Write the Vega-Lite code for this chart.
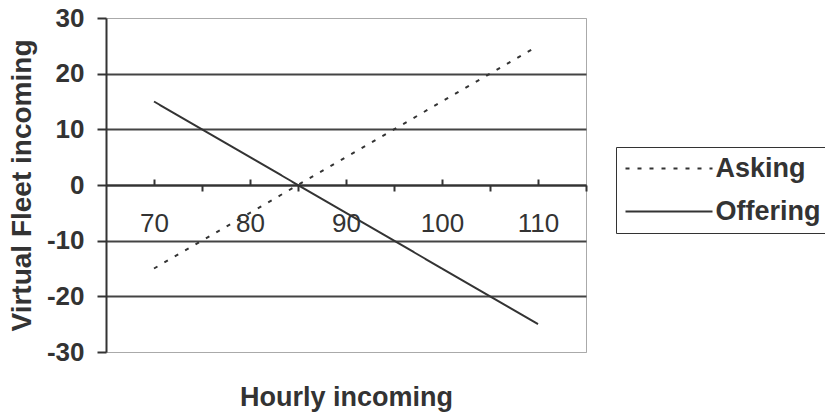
{
  "$schema": "https://vega.github.io/schema/vega-lite/v6.json",
  "autosize": "none",
  "width": 480,
  "height": 334,
  "padding": {"left": 106, "top": 18, "right": 239, "bottom": 60},
  "background": "white",
  "config": {
    "font": "Liberation Sans",
    "view": {"stroke": "#aaaaaa", "strokeWidth": 1},
    "axis": {"labelColor": "#333333", "titleColor": "#333333"}
  },
  "data": {
    "values": [
      {"series": "Asking", "hourly": 70, "vf": -15},
      {"series": "Asking", "hourly": 75, "vf": -10},
      {"series": "Asking", "hourly": 80, "vf": -5},
      {"series": "Asking", "hourly": 85, "vf": 0},
      {"series": "Asking", "hourly": 90, "vf": 5},
      {"series": "Asking", "hourly": 95, "vf": 10},
      {"series": "Asking", "hourly": 100, "vf": 15},
      {"series": "Asking", "hourly": 105, "vf": 20},
      {"series": "Asking", "hourly": 110, "vf": 25},
      {"series": "Offering", "hourly": 70, "vf": 15},
      {"series": "Offering", "hourly": 75, "vf": 10},
      {"series": "Offering", "hourly": 80, "vf": 5},
      {"series": "Offering", "hourly": 85, "vf": 0},
      {"series": "Offering", "hourly": 90, "vf": -5},
      {"series": "Offering", "hourly": 95, "vf": -10},
      {"series": "Offering", "hourly": 100, "vf": -15},
      {"series": "Offering", "hourly": 105, "vf": -20},
      {"series": "Offering", "hourly": 110, "vf": -25}
    ]
  },
  "mark": {"type": "line", "color": "#333333", "strokeWidth": 2},
  "encoding": {
    "x": {
      "field": "hourly",
      "type": "quantitative",
      "scale": {"domain": [65, 115], "nice": false, "zero": false},
      "axis": {
        "title": "Hourly incoming",
        "titleFontSize": 27,
        "titleFontWeight": "bold",
        "titleY": 220,
        "titleBaseline": "alphabetic",
        "offset": -167,
        "values": [70, 75, 80, 85, 90, 95, 100, 105, 110, 115],
        "labelExpr": "(datum.value % 10 == 0 && datum.value <= 110) ? datum.label : ''",
        "labelFontSize": 26,
        "labelFontWeight": "normal",
        "labelPadding": 31,
        "labelFlush": false,
        "labelOverlap": false,
        "tickSize": {"condition": {"test": "datum.value % 10 == 0 && datum.value < 115", "value": -6}, "value": 6},
        "tickColor": "#333333",
        "tickWidth": 2,
        "domainColor": "#333333",
        "domainWidth": 2,
        "grid": false
      }
    },
    "y": {
      "field": "vf",
      "type": "quantitative",
      "scale": {"domain": [-30, 30], "nice": false},
      "axis": {
        "title": "Virtual Fleet incoming",
        "titleFontSize": 28,
        "titleFontWeight": "bold",
        "titleX": -84,
        "titleBaseline": "middle",
        "values": [-30, -20, -10, 0, 10, 20, 30],
        "labelExpr": "'' + datum.value",
        "labelFontSize": 26,
        "labelFontWeight": "bold",
        "labelPadding": 13,
        "tickSize": 9,
        "tickColor": "#333333",
        "tickWidth": 2,
        "domainColor": "#333333",
        "domainWidth": 2,
        "grid": true,
        "gridColor": {"condition": {"test": "abs(datum.value) == 30", "value": "#aaaaaa"}, "value": "#444444"},
        "gridWidth": {"condition": {"test": "abs(datum.value) == 30", "value": 1}, "value": 2},
        "gridOpacity": 1
      }
    },
    "strokeDash": {
      "field": "series",
      "type": "nominal",
      "scale": {"domain": ["Asking", "Offering"], "range": [[4, 8], [1, 0]]},
      "legend": {
        "title": null,
        "orient": "none",
        "legendX": 510,
        "legendY": 129,
        "strokeColor": "#333333",
        "padding": 8,
        "rowPadding": 15,
        "symbolType": "M-3.625,0H3.625",
        "symbolSize": 576,
        "symbolOffset": 31.5,
        "symbolStrokeColor": "#333333",
        "symbolStrokeWidth": 2,
        "labelFontSize": 27,
        "labelFontWeight": "bold",
        "labelColor": "#333333",
        "labelOffset": 33,
        "labelLimit": 400
      }
    }
  }
}
